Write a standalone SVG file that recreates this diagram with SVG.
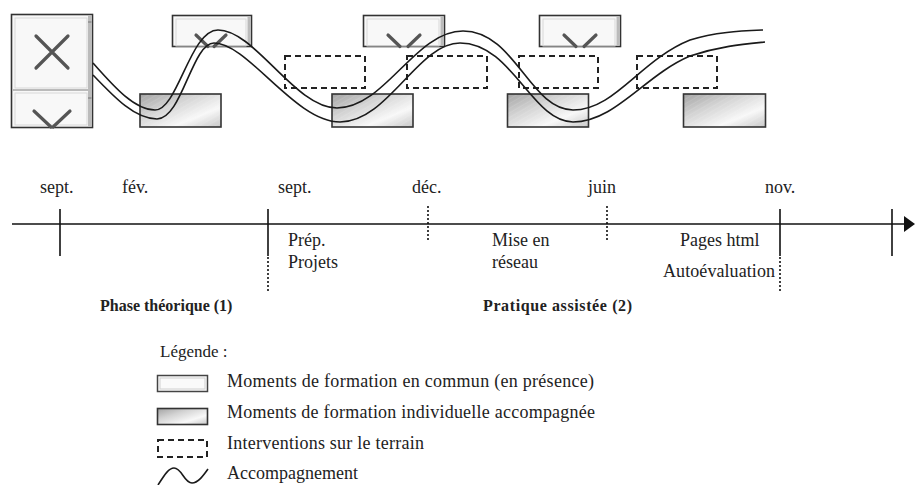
<svg xmlns="http://www.w3.org/2000/svg" width="915" height="485" viewBox="0 0 915 485">
<style>
text{font-family:"Liberation Serif","Times New Roman",serif;font-size:18px;fill:#222}
.b{font-weight:bold;font-size:16px}
.win{fill:#f8f8f8;stroke:#333;stroke-width:1.6}
.inner{fill:none;stroke:#d8d8d8;stroke-width:1}
.sb{fill:#bbb}
.xg{stroke:#555;stroke-width:3.2;fill:none;stroke-linecap:round}
.ind{fill:url(#gr);stroke:#333;stroke-width:1.6}
.hat{fill:url(#hp)}
.dash{fill:none;stroke:#222;stroke-width:2;stroke-dasharray:6 4}
.curve{fill:none;stroke:#1a1a1a;stroke-width:1.6}
.axis{stroke:#111;stroke-width:1.4;fill:none}
.tick{stroke:#111;stroke-width:1.6}
.dot{stroke:#111;stroke-width:1.6;stroke-dasharray:2 2}
</style>
<defs>
<linearGradient id="gr" x1="0" y1="0" x2="1" y2="1">
<stop offset="0" stop-color="#a2a2a2"/>
<stop offset="0.35" stop-color="#d3d3d3"/>
<stop offset="0.7" stop-color="#f8f8f8"/>
<stop offset="1" stop-color="#c6c6c6"/>
</linearGradient>
<pattern id="hp" width="4" height="4" patternUnits="userSpaceOnUse" patternTransform="rotate(-30)">
<line x1="0" y1="0" x2="4" y2="0" stroke="#ffffff" stroke-opacity="0.2" stroke-width="1"/>
</pattern>
</defs>

<!-- top: screenshot windows (common training) -->
<g id="win1">
<rect class="win" x="11.5" y="14.5" width="81" height="113"/>
<rect class="inner" x="15" y="18" width="72" height="70"/>
<rect class="inner" x="15" y="93" width="72" height="32"/>
<line x1="12" y1="90" x2="88" y2="90" stroke="#bbb" stroke-width="2"/>
<rect class="sb" x="88" y="15" width="3.5" height="112"/>
<line x1="88" y1="22" x2="91.5" y2="22" stroke="#777"/>
<line x1="88" y1="98" x2="91.5" y2="98" stroke="#777"/>
<path class="xg" d="M36,36 L68,68 M68,36 L36,68"/>
<path class="xg" d="M34,111 L51,127 M70,111 L53,127"/>
</g>
<g id="win2">
<rect class="win" x="172.5" y="15.5" width="79" height="31"/>
<rect class="inner" x="176" y="19" width="70" height="27"/>
<rect class="sb" x="247.5" y="16" width="3" height="30"/>
<path class="xg" d="M196,35 L208,46.5 M226,35 L214,46.5"/>
</g>
<g id="win3">
<rect class="win" x="363.5" y="15.5" width="81" height="31"/>
<rect class="inner" x="367" y="19" width="72" height="27"/>
<rect class="sb" x="440.5" y="16" width="3" height="30"/>
<path class="xg" d="M388,35 L400,46.5 M420,35 L408,46.5"/>
</g>
<g id="win4">
<rect class="win" x="539.5" y="15.5" width="81" height="31"/>
<rect class="inner" x="543" y="19" width="72" height="27"/>
<rect class="sb" x="616.5" y="16" width="3" height="30"/>
<path class="xg" d="M564,35 L576,46.5 M596,35 L584,46.5"/>
</g>

<!-- individual training (gradient boxes) -->
<g id="ind1"><rect class="ind" x="140" y="94" width="81" height="33"/><rect class="hat" x="141" y="95" width="79" height="31"/></g>
<g id="ind2"><rect class="ind" x="332" y="94" width="81" height="33"/><rect class="hat" x="333" y="95" width="79" height="31"/></g>
<g id="ind3"><rect class="ind" x="507.5" y="94" width="81" height="33"/><rect class="hat" x="508.5" y="95" width="79" height="31"/></g>
<g id="ind4"><rect class="ind" x="683.5" y="94" width="82" height="33"/><rect class="hat" x="684.5" y="95" width="80" height="31"/></g>

<!-- field interventions (dashed) -->
<g id="field1"><rect class="dash" x="285" y="56" width="80" height="32"/></g>
<g id="field2"><rect class="dash" x="407" y="56" width="80" height="32"/></g>
<g id="field3"><rect class="dash" x="519" y="56" width="79" height="32"/></g>
<g id="field4"><rect class="dash" x="637" y="56" width="80" height="32"/></g>

<!-- accompaniment curves -->
<g id="connectors">
<path class="curve" d="M93,63 C115,88 135,110 155,110 C178,110 190,30 218,30 C255,30 295,108 337,108 C385,108 415,31 463,31 C515,31 530,110 573,110 C615,110 640,60 690,40 C715,32 740,31 763,30"/>
<path class="curve" d="M93,75 C115,98 135,119 157,119 C182,119 192,43 214,43 C248,43 295,122 340,122 C388,122 418,43 460,43 C512,43 532,122 573,122 C615,122 645,75 690,56 C720,46 745,44 765,42"/>
</g>

<!-- timeline -->
<g id="timeline">
<line class="axis" x1="12" y1="224" x2="906" y2="224"/>
<path d="M904,216 L915,224 L904,232 Z" fill="#111"/>
<line class="tick" x1="60" y1="209" x2="60" y2="256"/>
<line class="tick" x1="268" y1="209" x2="268" y2="256"/>
<line class="dot" x1="268" y1="257" x2="268" y2="291"/>
<line class="dot" x1="428" y1="206" x2="428" y2="240"/>
<line class="dot" x1="607" y1="206" x2="607" y2="240"/>
<line class="tick" x1="780" y1="209" x2="780" y2="256"/>
<line class="dot" x1="780" y1="257" x2="780" y2="291"/>
<line class="tick" x1="892" y1="209" x2="892" y2="256"/>
</g>

<g id="labels">
<text x="40" y="193">sept.</text>
<text x="122" y="193">fév.</text>
<text x="278" y="193">sept.</text>
<text x="412" y="193">déc.</text>
<text x="588" y="193">juin</text>
<text x="765" y="193">nov.</text>
<text x="288" y="246">Prép.</text>
<text x="288" y="268">Projets</text>
<text x="492" y="246">Mise en</text>
<text x="492" y="268">réseau</text>
<text x="680" y="246">Pages html</text>
<text x="663" y="277" textLength="112" lengthAdjust="spacing">Autoévaluation</text>
<text class="b" x="100" y="311">Phase théorique (1)</text>
<text class="b" x="483" y="311" textLength="149">Pratique assistée (2)</text>
</g>

<!-- legend -->
<g id="legend">
<text x="160" y="357" style="font-size:17px">Légende :</text>
<rect x="157.5" y="375.5" width="50" height="16" fill="#fafafa" stroke="#444" stroke-width="1.5"/>
<rect x="160" y="378" width="45" height="11" fill="none" stroke="#d0d0d0"/>
<text x="227" y="387" textLength="367">Moments de formation en commun (en présence)</text>
<rect class="ind" x="157.5" y="408.5" width="50" height="16"/>
<text x="227" y="418" textLength="368">Moments de formation individuelle accompagnée</text>
<rect class="dash" x="158" y="440" width="49" height="17"/>
<text x="227" y="449" textLength="197">Interventions sur le terrain</text>
<path class="curve" d="M158,485 C165,474 169,468 174,468 C182,468 184,483 192,483 C198,483 203,476 208,469"/>
<text x="227" y="479">Accompagnement</text>
</g>
</svg>
